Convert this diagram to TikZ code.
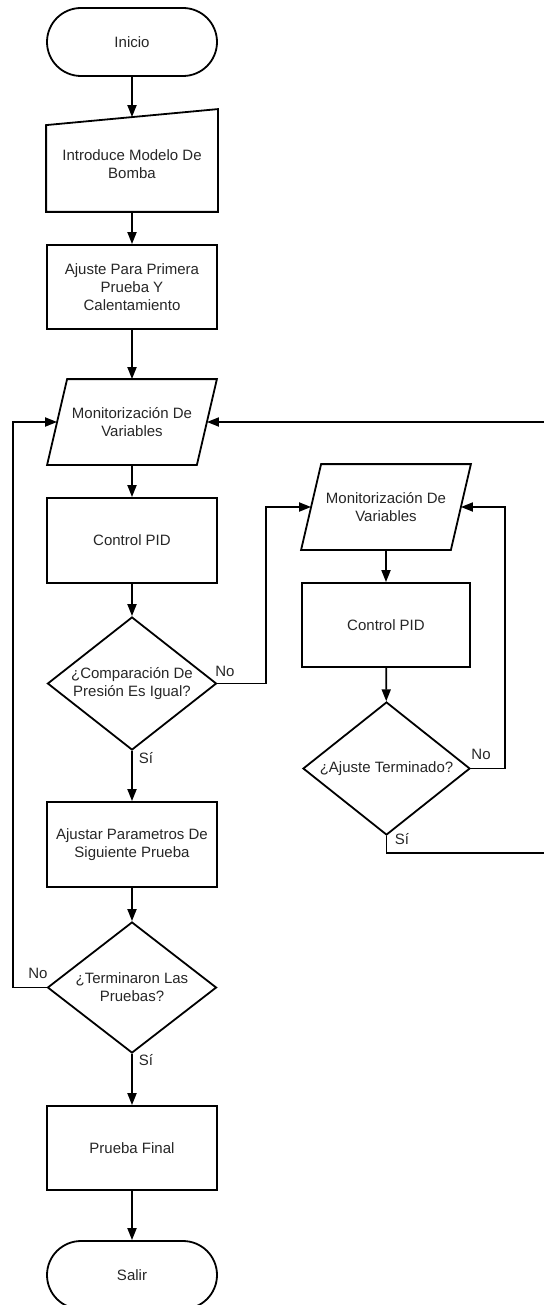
\documentclass[tikz,border=0pt]{standalone}
\usepackage{fontspec}
\setmainfont{Liberation Sans}
\usetikzlibrary{shapes.geometric,arrows.meta}

\tikzset{
  base/.style={font=\fontsize{7.5}{9}\selectfont, text=black!85, align=center, inner sep=0pt},
  term/.style={base, draw, rounded corners=17pt, minimum width=85pt, minimum height=34pt},
  proc/.style={base, draw, minimum width=85pt, minimum height=42pt},
  iobox/.style={base, minimum width=74pt, minimum height=42pt},
  decision/.style={base, draw, diamond, aspect=1.27, minimum width=84.5pt, minimum height=66.5pt},
  flow/.style={-{Triangle[length=6pt,width=4.5pt]}},
  lbl/.style={base}
}

% outline of an input/output box (parallelogram)
\newcommand{\ioframe}[1]{%
  \draw ([xshift=5pt]#1.north west) -- ([xshift=5pt]#1.north east)
     -- ([xshift=-5pt]#1.south east) -- ([xshift=-5pt]#1.south west) -- cycle;}

\begin{document}
\begin{tikzpicture}[x=0.5pt, y=-0.5pt, line width=0.9pt]
  \useasboundingbox (0,0) rectangle (544,1305);

  % main column
  \node[term] (ini) at (132,42) {Inicio};
  \node[base, minimum width=85pt, minimum height=46.5pt] (inp) at (132,164.5) {Introduce Modelo De\\Bomba};
  \draw ([yshift=-4pt]inp.north west) -- ([yshift=4pt]inp.north east) -- (inp.south east) -- (inp.south west) -- cycle;
  \node[proc] (aj1) at (132,287) {Ajuste Para Primera\\Prueba Y\\Calentamiento};
  \node[iobox] (mon1) at (132,422) {Monitorizaci\'on De\\Variables};
  \ioframe{mon1}
  \node[proc, minimum height=42.5pt] (pid1) at (132,540.5) {Control PID};
  \node[decision] (cmp) at (132,683.5) {¿Comparaci\'on De\\Presi\'on Es Igual?};
  \node[proc, minimum height=42.5pt] (ajp) at (132,844.5) {Ajustar Parametros De\\Siguiente Prueba};
  \node[decision, minimum height=65.5pt] (ter) at (132,987.5) {¿Terminaron Las\\Pruebas?};
  \node[proc] (fin) at (132,1148) {Prueba Final};
  \node[term] (sal) at (132,1275) {Salir};

  % right column
  \node[iobox] (mon2) at (386,507) {Monitorizaci\'on De\\Variables};
  \ioframe{mon2}
  \node[proc, minimum width=84pt] (pid2) at (386,625) {Control PID};
  \node[decision, minimum width=83.5pt] (aju) at (386.5,768.5) {¿Ajuste Terminado?};

  % bend points
  \coordinate (lp) at (13,700);
  \coordinate (rb) at (266,600);
  \coordinate (rc) at (505,600);
  \coordinate (dn) at (546,853);

  % straight connectors
  \draw[flow] (ini) -- (inp);
  \draw[flow] (inp) -- (aj1);
  \draw[flow] (aj1) -- (mon1);
  \draw[flow] (mon1) -- (pid1);
  \draw[flow] (pid1) -- (cmp);
  \draw[flow] (cmp) -- (ajp);
  \draw[flow] (ajp) -- (ter);
  \draw[flow] (ter) -- (fin);
  \draw[flow] (fin) -- (sal);
  \draw[flow] (mon2) -- (pid2);
  \draw[flow] (pid2) -- (aju);

  % loops
  \draw[flow] (ter.west) -| (lp) |- (mon1.west);
  \draw[flow] (cmp.east) -| (rb) |- (mon2.west);
  \draw[flow] (aju.east) -| (rc) |- (mon2.east);
  \draw[flow] (aju.south) |- (dn) |- (mon1.east);

  % branch labels
  \node[lbl] (no1) at (225,671) {No};
  \node[lbl] (si1) at (146,758) {Sí};
  \node[lbl] (no2) at (481,754) {No};
  \node[lbl] (si2) at (402,839) {Sí};
  \node[lbl] (no3) at (38,973) {No};
  \node[lbl] (si3) at (146,1060) {Sí};
\end{tikzpicture}
\end{document}
